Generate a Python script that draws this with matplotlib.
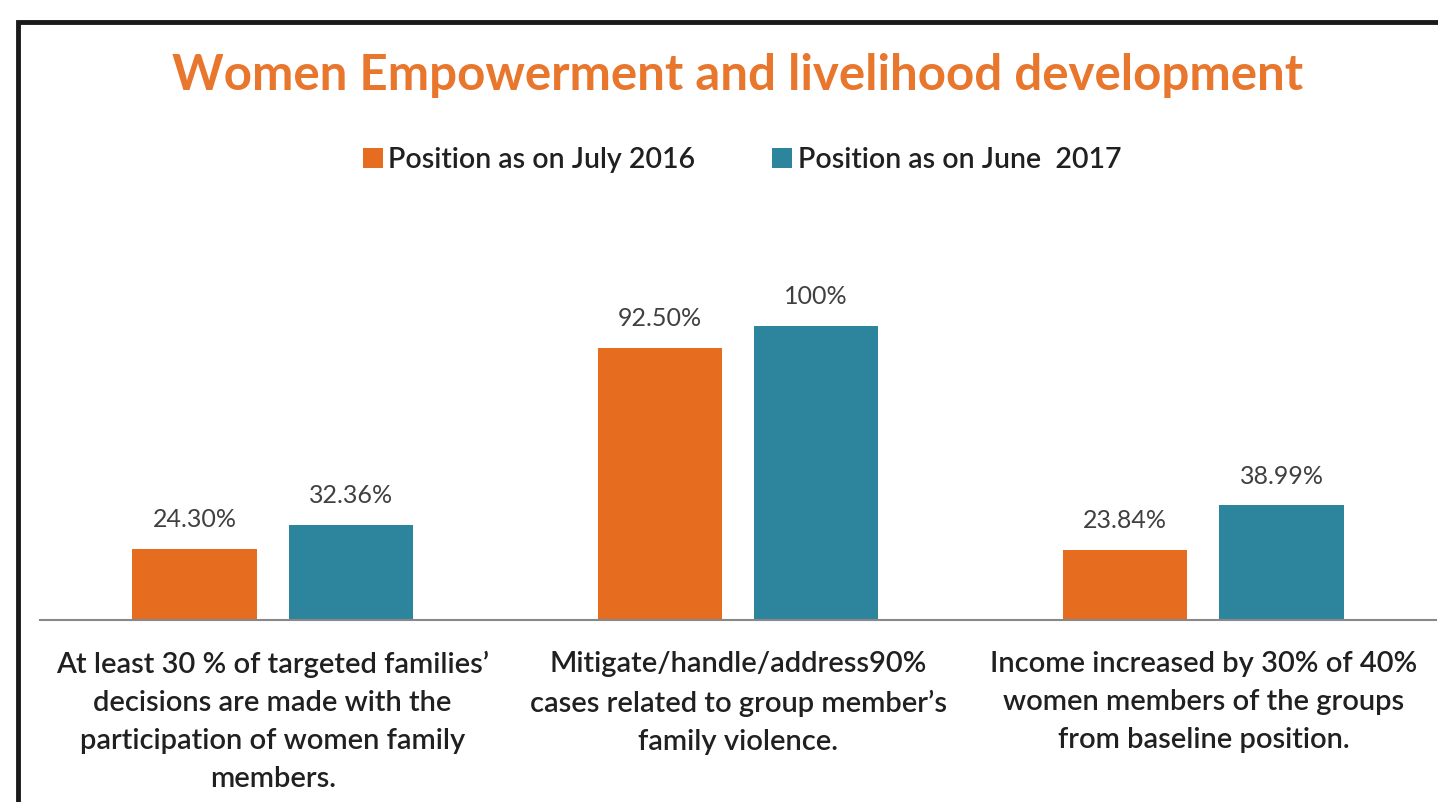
import matplotlib
matplotlib.use('Agg')
import matplotlib.pyplot as plt
import numpy as np
from matplotlib.patches import Rectangle

categories = [
    "At least 30 % of targeted families\u2019\ndecisions are made with the\nparticipation of women family\nmembers.",
    "Mitigate/handle/address90%\ncases related to group member\u2019s\nfamily violence.",
    "Income increased by 30% of 40%\nwomen members of the groups\nfrom baseline position.",
]
series_names = ["Position as on July 2016", "Position as on June  2017"]
july_2016 = [24.30, 92.50, 23.84]
june_2017 = [32.36, 100, 38.99]
labels_2016 = ["24.30%", "92.50%", "23.84%"]
labels_2017 = ["32.36%", "100%", "38.99%"]

orange = "#E66C20"
teal = "#2C859C"

plt.rcParams['font.family'] = ['Lato', 'DejaVu Sans']

fig = plt.figure(figsize=(14.38, 8.02), dpi=100)
W, H = 1438, 802

# outer chart border
fig.patches.append(Rectangle((18 / W, -0.05), 1.2, 1 - 22 / H + 0.05,
                             transform=fig.transFigure, fill=False,
                             edgecolor="#1a1a1a", linewidth=3.5))

ax = fig.add_axes([40 / W, 1 - 620 / H, (1436 - 40) / W, (620 - 230) / H])
x = np.arange(len(categories))
w = 0.267
off = 0.168
b1 = ax.bar(x - off, july_2016, w, color=orange, label=series_names[0])
b2 = ax.bar(x + off, june_2017, w, color=teal, label=series_names[1])

for bars, labs in ((b1, labels_2016), (b2, labels_2017)):
    for rect, lab in zip(bars, labs):
        ax.text(rect.get_x() + rect.get_width() / 2, rect.get_height() + 6, lab,
                ha="center", va="bottom", fontsize=18, color="#404040")

ax.set_xlim(-0.5, 2.5)
ax.set_ylim(0, 390 / 2.94)
ax.set_yticks([])
ax.set_xticks(x)
ax.set_xticklabels(categories, fontsize=21, color="#202020", linespacing=1.58,
                   fontweight="semibold")
ax.tick_params(axis="x", length=0, pad=22)
for s in ("top", "left", "right"):
    ax.spines[s].set_visible(False)
ax.spines["bottom"].set_color("#888888")
ax.spines["bottom"].set_linewidth(1.5)

fig.text(738 / W, 1 - 75 / H, "Women Empowerment and livelihood development",
         ha="center", va="center", fontsize=35.5, fontweight="bold", color="#E8762D")

fig.legend(handles=[b1, b2], labels=series_names, loc="center",
           bbox_to_anchor=(742 / W, 1 - 160 / H), ncol=2, frameon=False,
           prop={"size": 20.5, "weight": "semibold"}, handlelength=0.7,
           handleheight=0.7, handletextpad=0.2, columnspacing=2.7,
           labelcolor="#202020")

fig.savefig("out.png", dpi=100)
